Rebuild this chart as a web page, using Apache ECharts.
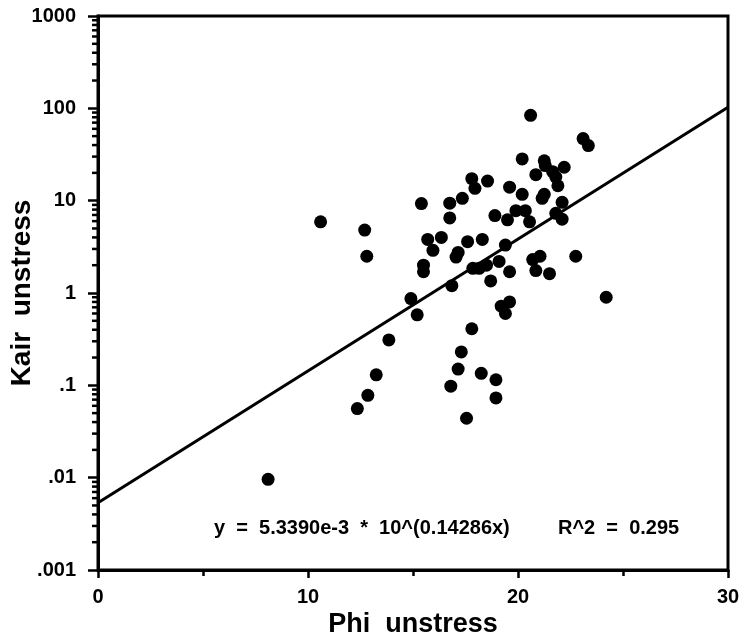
<!DOCTYPE html>
<html>
<head>
<meta charset="utf-8">
<script src="https://cdn.jsdelivr.net/npm/echarts@6/dist/echarts.min.js"></script>
<style>
  html, body { margin: 0; padding: 0; background: #fff; }
  #chart { width: 746px; height: 637px; }
</style>
</head>
<body>
<div id="chart"></div>
<script>
// Phi unstress (x) vs Kair unstress (y)
var phi = [8.1, 10.6, 12.7, 12.8, 12.35, 12.85, 13.25, 13.85, 14.9, 15.2,
    15.4, 15.5, 15.5, 15.7, 15.95, 16.35, 16.75, 16.75, 16.8, 16.85,
    17.05, 17.15, 17.15, 17.3, 17.35, 17.55, 17.6, 17.8, 17.8, 17.95,
    17.85, 18.15, 18.25, 18.3, 18.5, 18.55, 18.7, 18.9, 18.95, 18.95,
    19.1, 19.2, 19.4, 19.4, 19.5, 19.6, 19.6, 19.6, 19.9, 20.2,
    20.2, 20.35, 20.55, 20.6, 20.7, 20.85, 20.85, 21.05, 21.15, 21.25,
    21.25, 21.3, 21.5, 21.65, 21.8, 21.8, 21.9, 22.1, 22.1, 22.2,
    22.75, 23.1, 23.35, 24.2];
var kair = [0.0096, 5.9, 4.8, 2.5, 0.056, 0.078, 0.13, 0.31, 0.87, 0.58,
    9.3, 2.0, 1.7, 3.8, 2.9, 4.0, 9.4, 6.5, 0.098, 1.2,
    2.45, 2.75, 0.15, 0.23, 10.6, 0.044, 3.6, 0.41, 17.3, 13.6,
    1.85, 1.85, 0.135, 3.8, 2.0, 16.3, 1.35, 6.9, 0.115, 0.073,
    2.2, 0.72, 3.3, 0.6, 6.2, 14.0, 1.7, 0.8, 7.8, 28.3,
    11.7, 7.8, 5.9, 84, 2.3, 1.75, 19.1, 2.5, 10.6, 11.7,
    27, 24, 1.62, 20.6, 18, 7.3, 14.5, 9.6, 6.3, 23,
    2.5, 47, 39.5, 0.9];

// fitted line end points, read at x = 0 and x = 30
var fitX = [0, 30];
var fitY = [0.00534, 103];

var xTickLabels = ['0', '10', '20', '30'];
var yTickLabels = ['.001', '.01', '.1', '1', '10', '100', '1000'];
var yMinorSteps = [2, 3, 4, 5, 6, 7, 8, 9];

var equationText = 'y  =  5.3390e-3  *  10^(0.14286x)';
var r2Text = 'R^2  =  0.295';

var font = '"Liberation Sans", Arial, Helvetica, sans-serif';

var points = phi.map(function (x, i) { return [x, kair[i]]; });
var fitLine = fitX.map(function (x, i) { return [x, fitY[i]]; });

var minorTicks = [];
for (var d = -3; d < 3; d++) {
    yMinorSteps.forEach(function (k) {
        minorTicks.push([0, +(k * Math.pow(10, d)).toPrecision(3)]);
    });
}

var myChart = echarts.init(document.getElementById('chart'));
option = {
    backgroundColor: '#fff',
    animation: false,
    grid: {
        left: 98, right: 18, top: 16, bottom: 67,
        show: true, borderColor: '#000', borderWidth: 3,
        outerBoundsMode: 'none'
    },
    xAxis: {
        type: 'value',
        min: 0, max: 30, interval: 10,
        name: 'Phi  unstress',
        nameLocation: 'middle',
        nameGap: 41,
        nameMoveOverlap: false,
        nameTextStyle: { fontFamily: font, fontWeight: 'bold', fontSize: 27, color: '#000' },
        axisLine: { lineStyle: { color: '#000', width: 3 } },
        axisTick: { length: 8, lineStyle: { color: '#000', width: 2.5 } },
        minorTick: { show: true, splitNumber: 2, length: 6, lineStyle: { color: '#000', width: 2.5 } },
        splitLine: { show: false },
        axisLabel: {
            margin: 17,
            fontFamily: font, fontWeight: 'bold', fontSize: 20, color: '#000',
            formatter: function (v) { return xTickLabels[Math.round(v / 10)]; }
        }
    },
    yAxis: {
        type: 'log',
        logBase: 10,
        min: 0.001, max: 1000,
        splitNumber: 6,
        name: 'Kair  unstress',
        nameLocation: 'middle',
        nameGap: 62,
        nameMoveOverlap: false,
        nameTextStyle: { fontFamily: font, fontWeight: 'bold', fontSize: 28, color: '#000' },
        axisLine: { lineStyle: { color: '#000', width: 3 } },
        axisTick: { length: 10, lineStyle: { color: '#000', width: 2.5 } },
        splitLine: { show: false },
        axisLabel: {
            margin: 22,
            fontFamily: font, fontWeight: 'bold', fontSize: 20, color: '#000',
            formatter: function (v) { return yTickLabels[Math.round(Math.log10(v)) + 3]; }
        }
    },
    graphic: [
        {
            type: 'text', left: 214, top: 518,
            style: { text: equationText, font: 'bold 20px ' + font, fill: '#000' }
        },
        {
            type: 'text', left: 558, top: 518,
            style: { text: r2Text, font: 'bold 20px ' + font, fill: '#000' }
        }
    ],
    series: [
        {
            type: 'custom',
            silent: true,
            data: minorTicks,
            renderItem: function (params, api) {
                var p = api.coord([api.value(0), api.value(1)]);
                return {
                    type: 'line',
                    shape: { x1: p[0] - 6, y1: p[1], x2: p[0], y2: p[1] },
                    style: { stroke: '#000', lineWidth: 2.5 }
                };
            }
        },
        {
            type: 'line',
            data: fitLine,
            showSymbol: false,
            lineStyle: { color: '#000', width: 3 },
            z: 3
        },
        {
            type: 'scatter',
            data: points,
            symbolSize: 13,
            itemStyle: { color: '#000', opacity: 1 },
            z: 4
        }
    ]
};
myChart.setOption(option);
</script>
</body>
</html>
